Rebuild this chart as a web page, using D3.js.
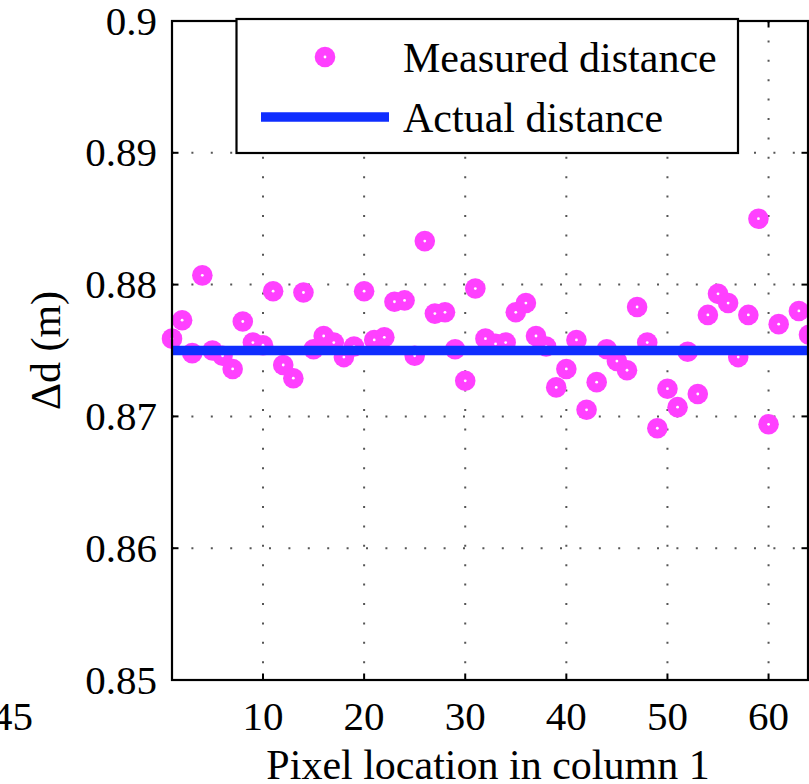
<!DOCTYPE html>
<html><head><meta charset="utf-8">
<script src="https://cdn.jsdelivr.net/npm/d3@7/dist/d3.min.js"></script>
<style>html,body{margin:0;padding:0;background:#fff;overflow:hidden}</style>
</head><body>
<script>
const pixelIndex = d3.range(1, 65);
const measured = [0.8759,0.8773,0.8748,0.8807,0.8750,0.8746,0.8736,0.8772,0.8756,0.8754,
0.8795,0.8739,0.8729,0.8794,0.8751,0.8761,0.8756,0.8745,0.8753,0.8795,
0.8758,0.8760,0.8787,0.8788,0.8746,0.8833,0.8778,0.8779,0.8751,0.8727,
0.8797,0.8759,0.8755,0.8756,0.8779,0.8786,0.8761,0.8753,0.8722,0.8736,
0.8758,0.8705,0.8726,0.8751,0.8742,0.8735,0.8783,0.8756,0.8691,0.8721,
0.8707,0.8749,0.8717,0.8777,0.8793,0.8786,0.8745,0.8777,0.8850,0.8694,
0.8770,null,0.8780,0.8762];
const actualDistance = 0.875;
const xTicks = [10,20,30,40,50,60];
const yTicks = [0.85,0.86,0.87,0.88,0.89,0.9];
const yTickLabels = ["0.85","0.86","0.87","0.88","0.89","0.9"];
const legendLabels = ["Measured distance","Actual distance"];
const xLabel = "Pixel location in column 1";
const yLabel = "Δd (m)";
const strayLabel = "45";

const W = 809, H = 784;
const L = 172, R = 809, T = 21, B = 680;
const magenta = "#ff40ff", blue = "#0f2eff";
const font = "'Liberation Serif','Times New Roman',serif";

const svg = d3.select("body").append("svg").attr("width", W).attr("height", H)
  .style("font-family", font);

const x = d3.scaleLinear().domain([1, 64]).range([L, R]);
const y = d3.scaleLinear().domain([0.85, 0.9]).range([B, T]);

// grid
const grid = svg.append("g").attr("stroke", "#555").attr("stroke-width", 2).attr("stroke-dasharray", "2,17.4");
xTicks.forEach(t => grid.append("line").attr("x1", x(t)).attr("x2", x(t)).attr("y1", T).attr("y2", B));
yTicks.slice(1, -1).forEach(t => grid.append("line").attr("x1", L).attr("x2", 808).attr("y1", y(t)).attr("y2", y(t)));

// markers
const pts = pixelIndex.map((p, i) => ({p, v: measured[i]})).filter(d => d.v != null);
svg.append("g").selectAll("circle").data(pts).join("circle")
  .attr("cx", d => x(d.p)).attr("cy", d => y(d.v)).attr("r", 10.3).attr("fill", magenta);
svg.append("g").selectAll("circle").data(pts).join("circle")
  .attr("cx", d => x(d.p)).attr("cy", d => y(d.v)).attr("r", 1.4).attr("fill", "#fff");

// actual line
svg.append("line").attr("x1", x(1)).attr("x2", x(64)).attr("y1", y(actualDistance)).attr("y2", y(actualDistance))
  .attr("stroke", blue).attr("stroke-width", 9.5);

// axes box
const ax = svg.append("g").attr("stroke", "#000").attr("stroke-width", 2.2).attr("fill", "none");
ax.append("rect").attr("x", L).attr("y", T).attr("width", 808 - L).attr("height", B - T);

// ticks (inward)
const tk = svg.append("g").attr("stroke", "#000").attr("stroke-width", 2);
xTicks.forEach(t => {
  tk.append("line").attr("x1", x(t)).attr("x2", x(t)).attr("y1", B).attr("y2", B - 6.5);
  tk.append("line").attr("x1", x(t)).attr("x2", x(t)).attr("y1", T).attr("y2", T + 6.5);
});
yTicks.forEach(t => {
  tk.append("line").attr("x1", L).attr("x2", L + 6.5).attr("y1", y(t)).attr("y2", y(t));
  tk.append("line").attr("x1", 808).attr("x2", 808 - 6.5).attr("y1", y(t)).attr("y2", y(t));
});

// tick labels
svg.append("g").selectAll("text").data(xTicks).join("text")
  .attr("x", d => x(d)).attr("y", 730).attr("text-anchor", "middle")
  .attr("font-size", 41).text(d => d);
svg.append("g").selectAll("text").data(yTicks).join("text")
  .attr("x", 157).attr("y", d => y(d) + 13.5).attr("text-anchor", "end")
  .attr("font-size", 41).text((d, i) => yTickLabels[i]);
svg.append("text").attr("x", 33).attr("y", 730).attr("text-anchor", "end").attr("font-size", 41).text(strayLabel);

// axis labels
svg.append("text").attr("x", (L + 808) / 2 - 2).attr("y", 779).attr("text-anchor", "middle")
  .attr("font-size", 42).text(xLabel);
svg.append("text").attr("transform", `translate(60,${(T + B) / 2}) rotate(-90)`).attr("text-anchor", "middle")
  .attr("font-size", 42).text(yLabel);

// legend
const lg = svg.append("g");
lg.append("rect").attr("x", 236.5).attr("y", 19).attr("width", 501.5).attr("height", 134)
  .attr("fill", "#fff").attr("stroke", "#000").attr("stroke-width", 2.2);
lg.append("circle").attr("cx", 325).attr("cy", 57).attr("r", 10.3).attr("fill", magenta);
lg.append("circle").attr("cx", 325).attr("cy", 57).attr("r", 1.4).attr("fill", "#fff");
lg.append("line").attr("x1", 261).attr("x2", 389).attr("y1", 117).attr("y2", 117)
  .attr("stroke", blue).attr("stroke-width", 9.5);
lg.selectAll("text.l").data(legendLabels).join("text").attr("class", "l")
  .attr("x", 403).attr("y", (d, i) => 72 + i * 60).attr("font-size", 42).text(d => d);
</script>
</body></html>
